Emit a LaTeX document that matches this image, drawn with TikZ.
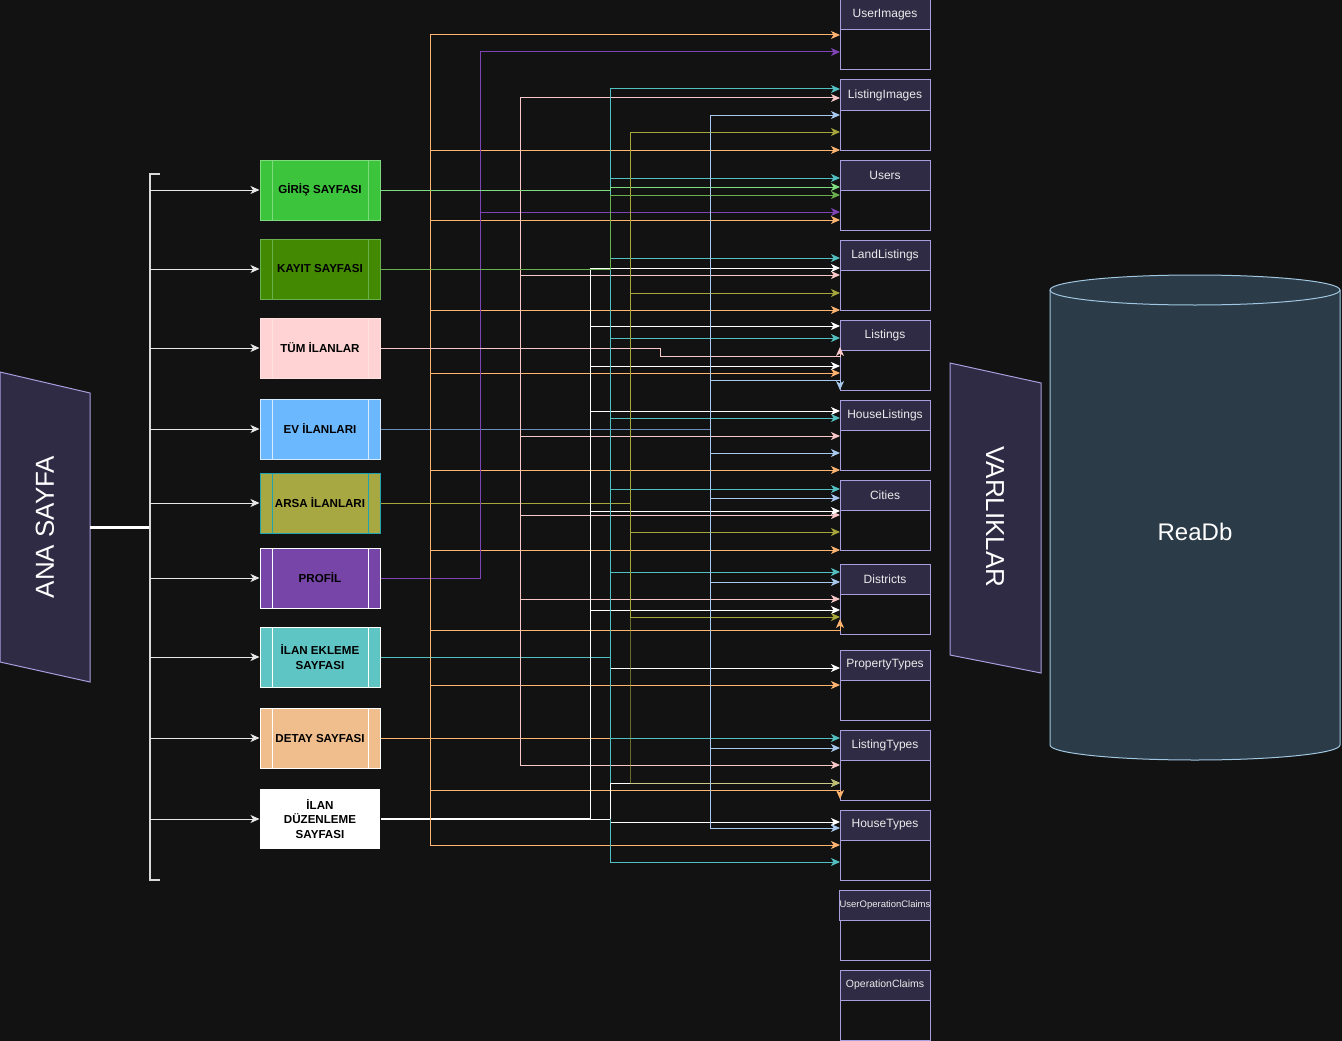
\documentclass[tikz,border=0pt]{standalone}
\usepackage{fontspec}
\setmainfont{Liberation Sans}
\usetikzlibrary{positioning, arrows.meta, calc}

\definecolor{bg}{HTML}{121212}
\definecolor{entfill}{HTML}{2F2B44}
\definecolor{entdraw}{HTML}{A69EDD}
\definecolor{dbfill}{HTML}{2C3B48}
\definecolor{dbdraw}{HTML}{A0C6E0}
\definecolor{cOrange}{HTML}{FFB570}
\definecolor{cPurple}{HTML}{7E44B5}
\definecolor{cPink}{HTML}{F8C8C8}
\definecolor{cTeal}{HTML}{52C0C0}
\definecolor{cOlive}{HTML}{A6A63A}
\definecolor{cSky}{HTML}{A9C8EE}
\definecolor{cBlue}{HTML}{6C8EBF}
\definecolor{cLime}{HTML}{7EDB7E}
\definecolor{cGreen}{HTML}{6AB04C}
\definecolor{cWire}{HTML}{E8E8E8}
% page fills and borders
\definecolor{girisFill}{HTML}{3CC43C}
\definecolor{kayitFill}{HTML}{438A02}
\definecolor{tumFill}{HTML}{FFD3D3}
\definecolor{tumDraw}{HTML}{FFE0E0}
\definecolor{evFill}{HTML}{6BB8FF}
\definecolor{evDraw}{HTML}{D8EAFF}
\definecolor{arsaFill}{HTML}{A8A843}
\definecolor{arsaDraw}{HTML}{21A3AF}
\definecolor{profilFill}{HTML}{7745A8}
\definecolor{eklemeFill}{HTML}{5EC4C4}
\definecolor{detayFill}{HTML}{F0BE8C}

\begin{document}
\begin{tikzpicture}[x=1pt, y=-1pt, >={Stealth[length=9pt, width=8pt, inset=2.5pt]},
    page/.style={minimum width=120pt, minimum height=60pt, inner sep=2pt, align=center, text=black,
        line width=1pt, font=\fontsize{11.6}{14.5}\selectfont\bfseries},
    process/.style 2 args={page, fill=#1, draw=#2, path picture={
        \draw[#2, line width=1pt]
            ([xshift=12pt]path picture bounding box.north west) -- ([xshift=12pt]path picture bounding box.south west)
            ([xshift=-12pt]path picture bounding box.north east) -- ([xshift=-12pt]path picture bounding box.south east);}},
    ent/.style={draw=entdraw, fill=entfill, minimum width=90pt, minimum height=30pt, inner sep=0pt, outer sep=0pt,
        line width=1pt, text=white!92!black, font=\fontsize{12}{14}\selectfont},
    entbody/.style={draw=entdraw, fill=bg, minimum width=90pt, minimum height=40pt, outer sep=0pt,
        line width=1pt, below=0pt of #1},
    shell/.style={draw=entdraw, fill=entfill, line width=1pt},
    trunk/.style={to path={|- (\tikztotarget)}},
    wire/.style={draw=#1, line width=1pt},
    bundle/.style={color=#1, line width=1pt}]

    % Background
    \path[fill=bg, use as bounding box] (0,0) rectangle (1342,1041);

    % Main page and bracket
    \draw[shell] (0,372) -- (90,393) -- (90,682) -- (0,662) -- cycle;
    \node[rotate=90, text=white, font=\fontsize{26}{30}\selectfont] (ana) at (45,527) {ANA SAYFA};
    \coordinate (anaOut) at (90,527);
    \coordinate (bus) at (150,527);
    \coordinate (btop) at (160,174);
    \coordinate (bbot) at (160,880);
    \draw[white, line width=3pt] (anaOut) -- (bus);
    \draw[white!85!black, line width=1.5pt] (btop) -| (bus) |- (bbot);

    % Pages
    \node[process={girisFill}{cLime}] (giris) at (320,190) {GİRİŞ SAYFASI};
    \node[process={kayitFill}{cGreen}] (kayit) at (320,269) {KAYIT SAYFASI};
    \node[process={tumFill}{tumDraw}] (tum) at (320,348) {TÜM İLANLAR};
    \node[process={evFill}{evDraw}] (ev) at (320,429) {EV İLANLARI};
    \node[process={arsaFill}{arsaDraw}] (arsa) at (320,503) {ARSA İLANLARI};
    \node[process={profilFill}{white}] (profil) at (320,578) {PROFİL};
    \node[process={eklemeFill}{white}] (ekleme) at (320,657) {İLAN EKLEME\\SAYFASI};
    \node[process={detayFill}{white}] (detay) at (320,738) {DETAY SAYFASI};
    \node[page, fill=white] (duz) at (320,819) {İLAN\\DÜZENLEME\\SAYFASI};

    \foreach \p in {giris, kayit, tum, ev, arsa, profil, ekleme, detay, duz}
        \draw[wire=cWire, ->] (bus |- \p.west) -- (\p.west);

    % Entities
    \node[ent] (ui) at (885,15) {UserImages};
    \node[entbody=ui] {};
    \node[ent] (li) at (885,95) {ListingImages};
    \node[entbody=li] {};
    \node[ent] (us) at (885,175) {Users};
    \node[entbody=us] {};
    \node[ent] (ll) at (885,255) {LandListings};
    \node[entbody=ll] {};
    \node[ent] (lst) at (885,335) {Listings};
    \node[entbody=lst] {};
    \node[ent] (hl) at (885,415) {HouseListings};
    \node[entbody=hl] {};
    \node[ent] (ci) at (885,495) {Cities};
    \node[entbody=ci] {};
    \node[ent] (di) at (885,579) {Districts};
    \node[entbody=di] {};
    \node[ent] (pt) at (885,665) {PropertyTypes};
    \node[entbody=pt] {};
    \node[ent] (lt) at (885,745) {ListingTypes};
    \node[entbody=lt] {};
    \node[ent] (ht) at (885,825) {HouseTypes};
    \node[entbody=ht] {};
    \node[ent, font=\fontsize{9.5}{11}\selectfont] (uoc) at (885,905) {UserOperationClaims};
    \node[entbody=uoc] {};
    \node[ent, font=\fontsize{10.5}{12}\selectfont] (oc) at (885,985) {OperationClaims};
    \node[entbody=oc] {};

    % Entity layer and database
    \draw[shell] (950,363) -- (1041,383) -- (1041,673) -- (950,655) -- cycle;
    \node[rotate=-90, text=white, font=\fontsize{26}{30}\selectfont] (varlik) at (995,517) {VARLIKLAR};
    \fill[dbfill] (1050,290) -- (1050,745) arc[start angle=180, end angle=360, x radius=145pt, y radius=15pt]
        -- (1340,290) arc[start angle=0, end angle=180, x radius=145pt, y radius=15pt] -- cycle;
    \draw[dbdraw, line width=1pt] (1050,290) -- (1050,745) arc[start angle=180, end angle=360, x radius=145pt, y radius=15pt]
        -- (1340,290);
    \draw[dbdraw, line width=1pt] (1195,290) ellipse[x radius=145pt, y radius=15pt];
    \node[text=white, font=\fontsize{24}{28}\selectfont] (db) at (1195,532) {ReaDb};

    % Trunk points
    \coordinate[right=50pt of detay.east] (tDetay);
    \coordinate[right=100pt of profil.east] (tProfil);
    \coordinate[right=140pt of tum.east] (tTum);
    \coordinate[right=330pt of ev.east] (tEv);
    \coordinate[right=250pt of arsa.east] (tArsa);
    \coordinate[right=230pt of ekleme.east] (tEkleme);
    \coordinate[right=210pt of duz.east] (tDuz);
    \coordinate[right=20pt of tDuz] (tDuzB);

    % Sources
    \draw[wire=cOrange] (detay.east) -- ++(230,0);
    \draw[wire=cPurple] (profil.east) -- (tProfil);
    \draw[wire=cBlue] (ev.east) -- (tEv);
    \draw[wire=cOlive] (arsa.east) -- (tArsa);
    \draw[wire=cTeal] (ekleme.east) -- (tEkleme);
    \draw[white, line width=2pt] (duz.east) -- (tDuz);
    \draw[wire=white] (tDuz) -- (tDuzB);

    % DETAY SAYFASI
    \path[bundle=cOrange, ->]
        (tDetay) edge[trunk] ($(ui.north west)+(0,35)$)
                 edge[trunk] ($(li.north west)+(0,70)$)
                 edge[trunk] ($(us.north west)+(0,60)$)
                 edge[trunk] ($(ll.north west)+(0,70)$)
                 edge[trunk] ($(lst.north west)+(0,53)$)
                 edge[trunk] ($(hl.north west)+(0,70)$)
                 edge[trunk] ($(ci.north west)+(0,70)$)
                 edge[trunk] ($(pt.north west)+(0,35)$)
                 edge[trunk] ($(ht.north west)+(0,35)$);
    \draw[wire=cOrange, ->] (tDetay) |- ($(di.north west)+(0,66)$) -- ($(di.north west)+(0,55)$);
    \draw[wire=cOrange, ->] (tDetay) |- ($(lt.north west)+(0,60)$) -- ($(lt.north west)+(0,69)$);

    % PROFIL
    \path[bundle=cPurple, ->]
        (tProfil) edge[trunk] ($(ui.north west)+(0,52)$)
                  edge[trunk] ($(us.north west)+(0,52)$);

    % TUM ILANLAR
    \draw[wire=cPink, ->] (tum.east) -- ++(280,0) |- ($(lst.north west)+(0,36)$) -- ($(lst.north west)+(0,27)$);
    \path[bundle=cPink, ->]
        (tTum) edge[trunk] ($(li.north west)+(0,18)$)
               edge[trunk] ($(ll.north west)+(0,35)$)
               edge[trunk] ($(hl.north west)+(0,36)$)
               edge[trunk] ($(ci.north west)+(0,35)$)
               edge[trunk] ($(di.north west)+(0,35)$)
               edge[trunk] ($(lt.north west)+(0,35)$);

    % ILAN DUZENLEME
    \path[bundle=white, ->]
        (tDuz) edge[trunk] ($(ll.north west)+(0,28)$)
               edge[trunk] ($(lst.north west)+(0,6)$)
               edge[trunk] ($(lst.north west)+(0,46)$)
               edge[trunk] ($(hl.north west)+(0,11)$)
               edge[trunk] ($(ci.north west)+(0,31)$)
               edge[trunk] ($(di.north west)+(0,46)$)
        (tDuzB) edge[trunk] ($(pt.north west)+(0,18)$)
                edge[trunk] ($(ht.north west)+(0,12)$);

    % ILAN EKLEME
    \path[bundle=cTeal, ->]
        (tEkleme) edge[trunk] ($(li.north west)+(0,9)$)
                  edge[trunk] ($(us.north west)+(0,18)$)
                  edge[trunk] ($(ll.north west)+(0,18)$)
                  edge[trunk] ($(lst.north west)+(0,18)$)
                  edge[trunk] ($(hl.north west)+(0,18)$)
                  edge[trunk] ($(ci.north west)+(0,9)$)
                  edge[trunk] ($(di.north west)+(0,8)$)
                  edge[trunk] ($(lt.north west)+(0,8)$)
                  edge[trunk] ($(ht.north west)+(0,52)$);

    % GIRIS / KAYIT
    \draw[wire=cLime, ->] (giris.east) -- ++(230,0) |- ($(us.north west)+(0,27)$);
    \draw[wire=cGreen, ->] (kayit.east) -- ++(230,0) |- ($(us.north west)+(0,35)$);

    % ARSA ILANLARI
    \path[bundle=cOlive, ->]
        (tArsa) edge[trunk] ($(li.north west)+(0,52)$)
                edge[trunk] ($(ll.north west)+(0,53)$)
                edge[trunk] ($(ci.north west)+(0,52)$)
                edge[trunk] ($(di.north west)+(0,53)$);
    \draw[wire=white, ->] (tDuzB) |- ($(lt.north west)+(0,53)$);
    \draw[wire=cOlive, opacity=0.6, ->] (tArsa) |- ($(lt.north west)+(0,53)$);

    % EV ILANLARI
    \path[bundle=cSky, ->]
        (tEv) edge[trunk] ($(li.north west)+(0,35)$)
              edge[trunk] ($(hl.north west)+(0,53)$)
              edge[trunk] ($(ci.north west)+(0,18)$)
              edge[trunk] ($(di.north west)+(0,18)$)
              edge[trunk] ($(lt.north west)+(0,18)$)
              edge[trunk] ($(ht.north west)+(0,18)$);
    \draw[wire=cSky, ->] (tEv) |- ($(lst.north west)+(0,60)$) -- ($(lst.north west)+(0,70)$);
\end{tikzpicture}
\end{document}
